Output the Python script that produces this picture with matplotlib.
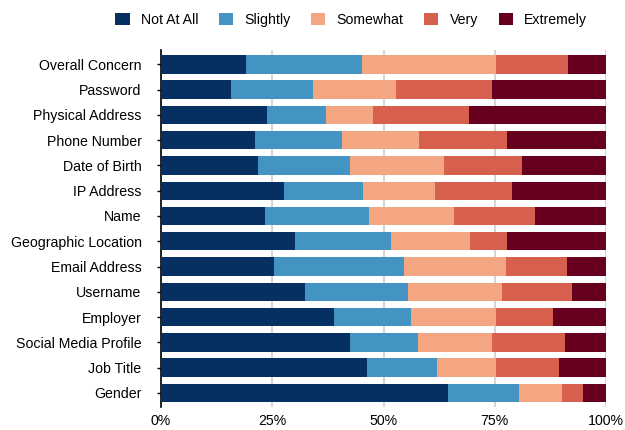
import matplotlib.pyplot as plt
import numpy as np

plt.rcParams['font.family'] = ['Liberation Sans', 'DejaVu Sans']

categories = ['Overall Concern', 'Password', 'Physical Address', 'Phone Number',
              'Date of Birth', 'IP Address', 'Name', 'Geographic Location',
              'Email Address', 'Username', 'Employer', 'Social Media Profile',
              'Job Title', 'Gender']
levels = ['Not At All', 'Slightly', 'Somewhat', 'Very', 'Extremely']

not_at_all = [19.0, 15.8, 23.9, 21.2, 21.7, 27.6, 23.3, 30.0, 25.5, 32.3, 38.8, 42.4, 46.2, 64.5]
slightly   = [26.1, 18.3, 13.1, 19.4, 20.7, 17.7, 23.4, 21.7, 29.1, 23.2, 17.4, 15.3, 15.8, 16.0]
somewhat   = [30.2, 18.7, 10.6, 17.4, 21.2, 16.3, 19.1, 17.7, 23.0, 21.2, 19.1, 16.7, 13.3, 9.7]
very       = [16.2, 21.6, 21.6, 19.8, 17.6, 17.3, 18.3, 8.4, 13.7, 15.7, 12.8, 16.4, 14.2, 4.7]
extremely  = [8.5, 25.6, 30.8, 22.2, 18.8, 21.1, 15.9, 22.2, 8.7, 7.6, 11.9, 9.2, 10.5, 5.1]

colors = ['#053061', '#4393c3', '#f4a582', '#d6604d', '#67001f']

fig = plt.figure(figsize=(6.25, 4.3), dpi=100)
ax = fig.add_axes([161 / 625, 1 - 407 / 430, 445 / 625, 357 / 430])

y = np.arange(len(categories))
left = np.zeros(len(categories))
for name, vals, c in zip(levels, [not_at_all, slightly, somewhat, very, extremely], colors):
    vals = np.array(vals)
    ax.barh(y, vals, left=left, height=0.73, color=c, label=name, zorder=3)
    left += vals

ax.set_xlim(0, 100)
ax.set_ylim(len(categories) - 0.44, -0.57)
ax.set_yticks(y)
ax.set_yticklabels(categories, fontsize=10.2)
ax.set_xticks([0, 25, 50, 75, 100])
ax.set_xticklabels(['0%', '25%', '50%', '75%', '100%'], fontsize=10.2)
ax.grid(axis='x', color='#d6d6d6', linewidth=1.5, zorder=0)
ax.tick_params(axis='y', length=3, width=1, pad=11)
ax.tick_params(axis='x', length=0, pad=5)
for s in ['top', 'right', 'bottom']:
    ax.spines[s].set_visible(False)
ax.spines['left'].set_linewidth(1.2)

fig.legend(loc='upper center', bbox_to_anchor=(0.562, 1.0), ncol=5, frameon=False,
           fontsize=10.2, handlelength=1.0, handleheight=1.0, handletextpad=0.8,
           columnspacing=1.45)

fig.savefig('out.png', dpi=100)
